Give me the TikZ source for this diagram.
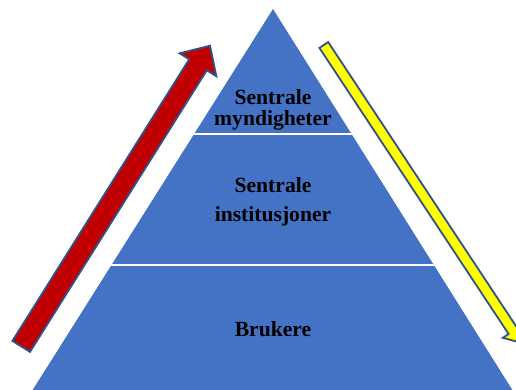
\documentclass[tikz,border=0pt]{standalone}
\usepackage{fontspec}
\setmainfont{Liberation Serif}
\definecolor{pyrblue}{HTML}{4472C4}
\definecolor{edgeblue}{HTML}{2F528F}
\definecolor{arrred}{HTML}{C00000}
\definecolor{arryel}{HTML}{FFFF00}
\tikzset{
  tierlabel/.style={anchor=base, inner sep=0pt, font=\fontsize{21.6}{21.6}\selectfont\bfseries, text=black},
  sep/.style={draw=white, line width=2.6pt},
  bigarrow/.style={draw=edgeblue, line width=1.8pt, line join=miter}
}
\begin{document}
\begin{tikzpicture}[x=1pt,y=-1pt]
\useasboundingbox (0,0) rectangle (516,390);
\clip (0,0) rectangle (516,390);
% pyramid
\fill[pyrblue] (273,9) -- (513,391) -- (32,391) -- cycle;
\draw[sep] (185,134) -- (361,134);
\draw[sep] (100,265) -- (446,265);
% red arrow (up)
\filldraw[bigarrow, fill=arrred] (12.4,340.9) -- (30.0,351.9) -- (206.8,70.3) -- (216.4,76.3) -- (210.0,45.7) -- (179.6,53.3) -- (189.2,59.3) -- cycle;
% yellow arrow (down)
\filldraw[bigarrow, fill=arryel] (328.2,42.1) -- (319.4,47.9) -- (508.6,334.0) -- (502.8,337.8) -- (520.7,342.7) -- (523.2,324.4) -- (517.4,328.2) -- cycle;
% labels
\node[tierlabel] (t1a) at (273,105) {Sentrale};
\node[tierlabel] (t1b) at (273,126) {myndigheter};
\node[tierlabel] (t2a) at (273,192.5) {Sentrale};
\node[tierlabel] (t2b) at (273,221.5) {institusjoner};
\node[tierlabel] (t3) at (273,336) {Brukere};
\end{tikzpicture}
\end{document}
